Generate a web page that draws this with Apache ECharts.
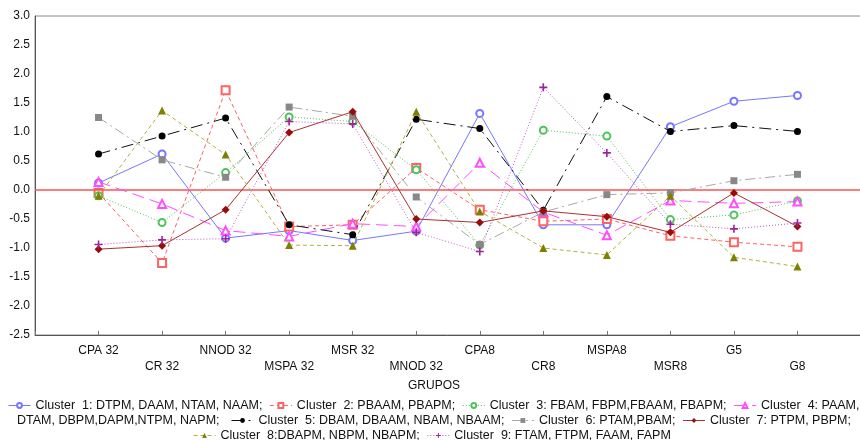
<!DOCTYPE html>
<html>
<head>
<meta charset="utf-8">
<script src="https://cdn.jsdelivr.net/npm/echarts@6/dist/echarts.min.js"></script>
<style>
  html, body { margin: 0; padding: 0; background: #fff; }
  #chart { width: 860px; height: 440px; }
</style>
</head>
<body>
<div id="chart"></div>
<script>
// Groups along the horizontal axis
const categories = ['CPA 32', 'CR 32', 'NNOD 32', 'MSPA 32', 'MSR 32', 'MNOD 32',
                    'CPA8', 'CR8', 'MSPA8', 'MSR8', 'G5', 'G8'];

// Mean profile of each cluster per group
const cluster1 = [0.12, 0.62, -0.83, -0.70, -0.87, -0.71, 1.32, -0.60, -0.60, 1.09, 1.53, 1.63];
const cluster2 = [-0.05, -1.26, 1.72, -0.63, -0.60, 0.38, -0.34, -0.54, -0.50, -0.79, -0.90, -0.98];
const cluster3 = [-0.10, -0.56, 0.30, 1.26, 1.18, 0.35, -0.95, 1.03, 0.93, -0.51, -0.43, -0.19];
const cluster4 = [0.14, -0.24, -0.70, -0.80, -0.58, -0.63, 0.47, -0.38, -0.78, -0.18, -0.23, -0.20];
const cluster5 = [0.62, 0.93, 1.24, -0.60, -0.77, 1.22, 1.06, -0.35, 1.61, 1.01, 1.11, 1.01];
const cluster6 = [1.25, 0.52, 0.22, 1.43, 1.27, -0.12, -0.94, -0.38, -0.08, -0.05, 0.16, 0.27];
const cluster7 = [-1.02, -0.96, -0.34, 0.99, 1.35, -0.50, -0.56, -0.36, -0.46, -0.73, -0.05, -0.63];
const cluster8 = [-0.10, 1.37, 0.61, -0.95, -0.96, 1.35, -0.37, -1.00, -1.12, -0.10, -1.16, -1.32];
const cluster9 = [-0.94, -0.86, -0.84, 1.18, 1.14, -0.73, -1.06, 1.77, 0.64, -0.59, -0.67, -0.57];

// Series names as shown in the legend
const names = [
  'Cluster  1: DTPM, DAAM, NTAM, NAAM;',
  'Cluster  2: PBAAM, PBAPM;',
  'Cluster  3: FBAM, FBPM,FBAAM, FBAPM;',
  'Cluster  4: PAAM, DTAM, DBPM,DAPM,NTPM, NAPM;',
  'Cluster  5: DBAM, DBAAM, NBAM, NBAAM;',
  'Cluster  6: PTAM,PBAM;',
  'Cluster  7: PTPM, PBPM;',
  'Cluster  8:DBAPM, NBPM, NBAPM;',
  'Cluster  9: FTAM, FTPM, FAAM, FAPM'
];

// Y axis range
const yMin = -2.5, yMax = 3.0, yStep = 0.5;

const FONT = 'Liberation Sans, Arial, sans-serif';
const PLUS = 'path://M4,0h2v4h4v2h-4v4h-2v-4h-4v-2h4z';

const styles = [
  { color: '#7676ff', symbol: 'emptyCircle', size: 7, type: 'solid', fill: '#fff' },
  { color: '#ff6262', symbol: 'emptyRect', size: 8, type: [4, 3], fill: '#fff' },
  { color: '#4fc45c', symbol: 'emptyCircle', size: 7, type: [1, 2], fill: '#fff' },
  { color: '#ff4dff', symbol: 'emptyTriangle', size: 8, type: [12, 6], fill: '#fff' },
  { color: '#111111', symbol: 'circle', size: 7, type: [12, 5, 2, 5], fill: '#000' },
  { color: '#a8a8a8', symbol: 'rect', size: 7, type: [10, 4, 2, 4], fill: '#888888' },
  { color: '#a83232', symbol: 'diamond', size: 8, type: 'solid', fill: '#9a0b0b' },
  { color: '#b2b23c', symbol: 'triangle', size: 8, type: [4, 3], fill: '#7f7f00' },
  { color: '#c452c4', symbol: PLUS, size: 8, type: [1, 2], fill: '#a01fa0' }
];

const values = [cluster1, cluster2, cluster3, cluster4, cluster5, cluster6, cluster7, cluster8, cluster9];

const series = values.map((vals, i) => {
  const st = styles[i];
  const hollow = st.symbol.indexOf('empty') === 0;
  const s = {
    name: names[i],
    type: 'line',
    data: vals.map((v, j) => [j, v]),
    symbol: st.symbol,
    symbolSize: st.size,
    showAllSymbol: true,
    lineStyle: { color: st.color, width: 1, type: st.type },
    itemStyle: {
      color: hollow ? st.color : st.fill,
      borderColor: st.color,
      borderWidth: hollow ? 1 : 0
    },
    emphasis: { disabled: true },
    animation: false,
    z: 2 + i
  };
  if (i === 0) {
    // reference line at zero
    s.markLine = {
      silent: true,
      symbol: 'none',
      label: { show: false },
      lineStyle: { color: '#ff5050', width: 1.5, type: 'solid' },
      data: [{ yAxis: 0 }],
      animation: false
    };
  }
  return s;
});

const legendCommon = {
  orient: 'horizontal',
  itemWidth: 22,
  itemHeight: 6,
  itemGap: 7,
  padding: 0,
  selectedMode: false,
  lineStyle: { width: 1 },
  textStyle: { fontSize: 12.5, fontFamily: FONT, color: '#111' }
};

const chart = echarts.init(document.getElementById('chart'), null, { renderer: 'canvas' });
chart.setOption({
  backgroundColor: '#fff',
  animation: false,
  grid: {
    left: 35, right: -1, top: 16, bottom: 105,
    outerBoundsMode: 'none',
    containLabel: false,
    show: true, borderColor: '#8a8a8a', borderWidth: 1
  },
  xAxis: {
    type: 'value',
    min: -1, max: 12, interval: 1,
    name: 'GRUPOS',
    nameLocation: 'middle',
    nameGap: 42,
    nameTextStyle: { fontSize: 12, fontFamily: FONT, color: '#111', padding: [0, 28, 0, 0] },
    axisLine: { show: true, onZero: false, lineStyle: { color: '#555', width: 1 } },
    axisTick: { show: true, inside: true, length: 4, lineStyle: { color: '#777' } },
    splitLine: { show: false },
    axisLabel: {
      fontSize: 12, fontFamily: FONT, color: '#111', margin: 8, lineHeight: 16,
      showMinLabel: true, showMaxLabel: true,
      formatter: v => {
        const name = categories[v];
        if (name === undefined) return '';
        return v % 2 === 1 ? '\n' + name : name;
      }
    }
  },
  yAxis: {
    type: 'value',
    min: yMin, max: yMax, interval: yStep,
    axisLine: { show: true, onZero: false, lineStyle: { color: '#555', width: 1 } },
    axisTick: { show: false },
    splitLine: { show: false },
    axisLabel: {
      fontSize: 12, fontFamily: FONT, color: '#111', margin: 5,
      formatter: v => v.toFixed(1)
    }
  },
  legend: [
    Object.assign({}, legendCommon, {
      left: 8, top: 399,
      data: names.slice(0, 4),
      formatter: name => (name === names[3] ? 'Cluster  4: PAAM,' : name)
    }),
    Object.assign({}, legendCommon, {
      left: 231, top: 414,
      data: names.slice(4, 7)
    }),
    Object.assign({}, legendCommon, {
      left: 193, top: 429,
      data: names.slice(7, 9)
    })
  ],
  graphic: [{
    type: 'text',
    left: 17, top: 414,
    style: {
      text: 'DTAM, DBPM,DAPM,NTPM, NAPM;',
      fontSize: 12.5, fontFamily: FONT, fill: '#111'
    }
  }],
  series: series
});
</script>
</body>
</html>
